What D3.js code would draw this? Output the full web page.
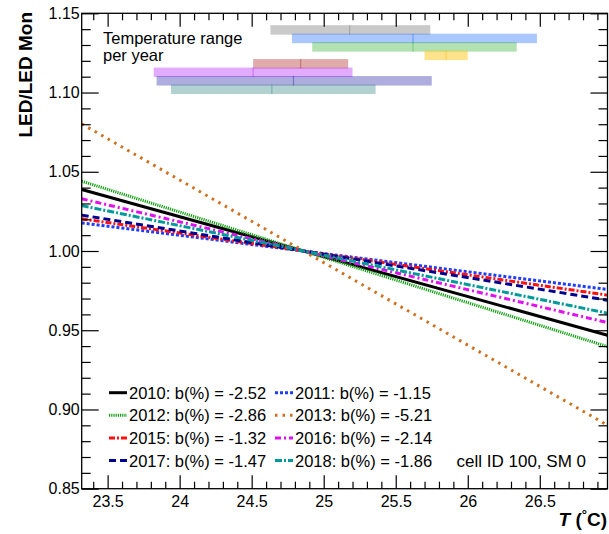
<!DOCTYPE html>
<html>
<head>
<meta charset="utf-8">
<script src="https://cdn.jsdelivr.net/npm/d3@7/dist/d3.min.js"></script>
<style>
  html, body { margin: 0; padding: 0; background: #fff; }
  svg { display: block; font-family: "Liberation Sans", Arial, Helvetica, sans-serif; }
</style>
</head>
<body>
<svg id="chart" width="609" height="534"></svg>
<script>
// Fit results per data-taking year: relative LED response vs temperature
const years = ["2010", "2011", "2012", "2013", "2015", "2016", "2017", "2018"];
const slopes = [-2.52, -1.15, -2.86, -5.21, -1.32, -2.14, -1.47, -1.86]; // b in % per degree C
const pivotT = 24.86; // temperature at which every fit equals 1

// Temperature range per year: minimum, mean, maximum (degrees C)
const tMin  = [24.63, 24.78, 24.92, 25.70, 24.51, 23.82, 23.84, 23.94];
const tMean = [25.18, 25.62, 25.62, 25.85, 24.84, 24.51, 24.79, 24.64];
const tMax  = [25.74, 26.48, 26.34, 26.00, 25.17, 25.20, 25.75, 25.36];

const xMajorTicks = [23.5, 24, 24.5, 25, 25.5, 26, 26.5];
const xTickLabels = ["23.5", "24", "24.5", "25", "25.5", "26", "26.5"];
const yMajorTicks = [0.85, 0.90, 0.95, 1.00, 1.05, 1.10, 1.15];
const yTickLabels = ["0.85", "0.90", "0.95", "1.00", "1.05", "1.10", "1.15"];

// Styling for each year
const lineColors = ["#000000", "#1f3dff", "#10a010", "#d0701c", "#ff1010", "#e010f0", "#000090", "#009a9a"];
const lineDash   = [null, "3,2", "1.2,1", "2.5,5", "6,2,2,2", "6,3,2,3", "7,4", "7,2,2,2"];
const barColors  = ["#666666", "#0055ff", "#00a000", "#ffc000", "#a00000", "#aa00ff", "#000099", "#006666"];
const barOpacity = [0.35, 0.33, 0.30, 0.45, 0.33, 0.33, 0.32, 0.30];

const svg = d3.select("#chart");
const L = 81.7, R = 607.5, T = 13.3, B = 488.7;

const x = d3.scaleLinear().domain([23.32, 26.97]).range([L, R]);
const y = d3.scaleLinear().domain([0.85, 1.15]).range([B, T]);

const xMinor = d3.range(234, 270).map(v => v / 10).filter(v => !xMajorTicks.some(m => Math.abs(m - v) < 1e-6));
const yMinor = d3.range(85, 116).map(v => v / 100).filter(v => !yMajorTicks.some(m => Math.abs(m - v) < 1e-6));

// Clip region for the plot
svg.append("defs").append("clipPath").attr("id", "plotclip")
  .append("rect").attr("x", L).attr("y", T).attr("width", R - L).attr("height", B - T);

// Temperature range bars
const barG = svg.append("g").attr("clip-path", "url(#plotclip)");
const barLevel = i => 1.1395 - i * 0.00535;
const barHalf = 0.003;
years.forEach((yr, i) => {
  barG.append("rect")
    .attr("x", x(tMin[i]))
    .attr("y", y(barLevel(i) + barHalf))
    .attr("width", x(tMax[i]) - x(tMin[i]))
    .attr("height", y(barLevel(i) - barHalf) - y(barLevel(i) + barHalf))
    .attr("fill", barColors[i])
    .attr("fill-opacity", barOpacity[i]);
  barG.append("line")
    .attr("x1", x(tMean[i])).attr("x2", x(tMean[i]))
    .attr("y1", y(barLevel(i) + barHalf)).attr("y2", y(barLevel(i) - barHalf))
    .attr("stroke", barColors[i]).attr("stroke-opacity", barOpacity[i])
    .attr("stroke-width", 1.2);
});

svg.append("text")
  .attr("x", 103).attr("y", 44)
  .attr("font-size", 16.5).attr("fill", "#000")
  .text("Temperature range");
svg.append("text")
  .attr("x", 103).attr("y", 61)
  .attr("font-size", 16.5).attr("fill", "#000")
  .text("per year");

// Fit lines
const fitLine = d3.line().x(d => x(d[0])).y(d => y(d[1]));
const lineG = svg.append("g").attr("clip-path", "url(#plotclip)");
const tEnds = x.domain();
years.forEach((yr, i) => {
  const pts = tEnds.map(t => [t, 1 + slopes[i] / 100 * (t - pivotT)]);
  const p = lineG.append("path")
    .attr("d", fitLine(pts))
    .attr("fill", "none")
    .attr("stroke", lineColors[i])
    .attr("stroke-width", 3);
  if (lineDash[i]) p.attr("stroke-dasharray", lineDash[i]);
});

// Axes with inward ticks on all four sides
function styleAxis(g) {
  g.select(".domain").remove();
  g.selectAll("line").attr("stroke", "#000").attr("stroke-width", 1.2);
  g.selectAll("text").attr("fill", "#000").attr("font-size", 16);
}
svg.append("g").attr("transform", `translate(0,${B})`)
  .call(d3.axisBottom(x).tickValues(xMajorTicks).tickSize(-13.5).tickPadding(7)
    .tickFormat((d, i) => xTickLabels[i]))
  .call(styleAxis);
svg.append("g").attr("transform", `translate(0,${B})`)
  .call(d3.axisBottom(x).tickValues(xMinor).tickSize(-7).tickFormat(""))
  .call(styleAxis);
svg.append("g").attr("transform", `translate(0,${T})`)
  .call(d3.axisTop(x).tickValues(xMajorTicks).tickSize(-13.5).tickFormat(""))
  .call(styleAxis);
svg.append("g").attr("transform", `translate(0,${T})`)
  .call(d3.axisTop(x).tickValues(xMinor).tickSize(-7).tickFormat(""))
  .call(styleAxis);
svg.append("g").attr("transform", `translate(${L},0)`)
  .call(d3.axisLeft(y).tickValues(yMajorTicks).tickSize(-17).tickPadding(2)
    .tickFormat((d, i) => yTickLabels[i]))
  .call(styleAxis);
svg.append("g").attr("transform", `translate(${L},0)`)
  .call(d3.axisLeft(y).tickValues(yMinor).tickSize(-9).tickFormat(""))
  .call(styleAxis);
svg.append("g").attr("transform", `translate(${R},0)`)
  .call(d3.axisRight(y).tickValues(yMajorTicks).tickSize(-17).tickFormat(""))
  .call(styleAxis);
svg.append("g").attr("transform", `translate(${R},0)`)
  .call(d3.axisRight(y).tickValues(yMinor).tickSize(-9).tickFormat(""))
  .call(styleAxis);

// Frame
svg.append("rect")
  .attr("x", L).attr("y", T).attr("width", R - L).attr("height", B - T)
  .attr("fill", "none").attr("stroke", "#000").attr("stroke-width", 1.3);

// Axis titles
svg.append("text")
  .attr("transform", "translate(31.5,12) rotate(-90)")
  .attr("text-anchor", "end")
  .attr("font-size", 19).attr("font-weight", "bold")
  .text("LED/LED Mon");

const xt = svg.append("text")
  .attr("x", 607).attr("y", 526)
  .attr("text-anchor", "end")
  .attr("font-size", 19).attr("font-weight", "bold");
xt.append("tspan").attr("font-style", "italic").text("T");
xt.append("tspan").text(" (");
xt.append("tspan").attr("font-size", 13).attr("dy", -7).text("°");
xt.append("tspan").attr("dy", 7).text("C)");

// Legend
const legCols = [109, 275];
const legRows = [392.7, 415.2, 438, 460.5];
years.forEach((yr, i) => {
  const cx = legCols[i % 2], cy = legRows[Math.floor(i / 2)];
  const s = svg.append("line")
    .attr("x1", cx).attr("x2", cx + 18).attr("y1", cy).attr("y2", cy)
    .attr("stroke", lineColors[i]).attr("stroke-width", 3);
  if (lineDash[i]) s.attr("stroke-dasharray", lineDash[i]);
  svg.append("text")
    .attr("x", cx + 20).attr("y", cy + 6)
    .attr("font-size", 16.5).attr("fill", "#000")
    .text(`${yr}: b(%) = ${slopes[i].toFixed(2)}`);
});

svg.append("text")
  .attr("x", 586).attr("y", 466.5)
  .attr("text-anchor", "end")
  .attr("font-size", 17).attr("fill", "#000")
  .text("cell ID 100, SM 0");
</script>
</body>
</html>
